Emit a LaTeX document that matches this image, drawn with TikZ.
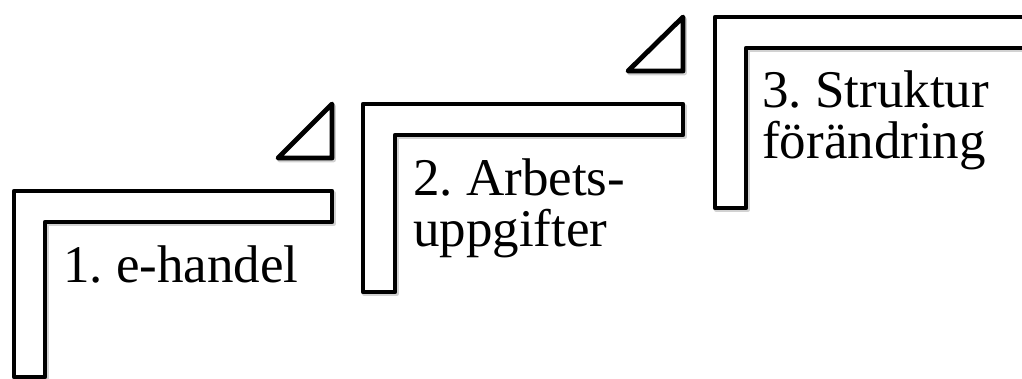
\documentclass[tikz,border=0pt]{standalone}
\usepackage{fontspec}
\setmainfont{Liberation Serif}
\frenchspacing
\begin{document}
\begin{tikzpicture}[x=1pt,y=-1pt,
  stair/.style={draw=black,line width=4.8pt,line join=round,fill=white},
  stairshade/.style={draw=black!35,line width=4.8pt,line join=round,opacity=0.5},
  steplabel/.style={anchor=base west,inner sep=0pt,align=left,
    font=\fontsize{53}{51}\selectfont}]
\useasboundingbox (0,0) rectangle (1022,379);
\clip (0,0) rectangle (1022,379);

% faint shadow under each outline
\begin{scope}[shift={(1.5,2)}]
  \draw[stairshade] (14,191) -- (332,191) -- (332,222) -- (45,222) -- (45,377) -- (14,377) -- cycle;
  \draw[stairshade] (363,104) -- (683,104) -- (683,135) -- (395,135) -- (395,292) -- (363,292) -- cycle;
  \draw[stairshade] (715,17) -- (1040,17) -- (1040,48) -- (746,48) -- (746,208) -- (715,208) -- cycle;
  \draw[stairshade] (332,104) -- (332,158) -- (278,158) -- cycle;
  \draw[stairshade] (683,17) -- (683,71) -- (628,71) -- cycle;
\end{scope}

% step outlines (L-shaped brackets)
\draw[stair] (14,191) -- (332,191) -- (332,222) -- (45,222) -- (45,377) -- (14,377) -- cycle;
\draw[stair] (363,104) -- (683,104) -- (683,135) -- (395,135) -- (395,292) -- (363,292) -- cycle;
\draw[stair] (715,17) -- (1040,17) -- (1040,48) -- (746,48) -- (746,208) -- (715,208) -- cycle;

% small triangles between the steps
\draw[stair] (332,104) -- (332,158) -- (278,158) -- cycle;
\draw[stair] (683,17) -- (683,71) -- (628,71) -- cycle;

% step labels (base anchor sits on the last line)
\node[steplabel] (s1) at (63,283) {1. e-handel};
\node[steplabel] (s2) at (413,247) {2. Arbets-\\uppgifter};
\node[steplabel] (s3) at (762,159) {3. Struktur\\förändring};
\end{tikzpicture}
\end{document}
